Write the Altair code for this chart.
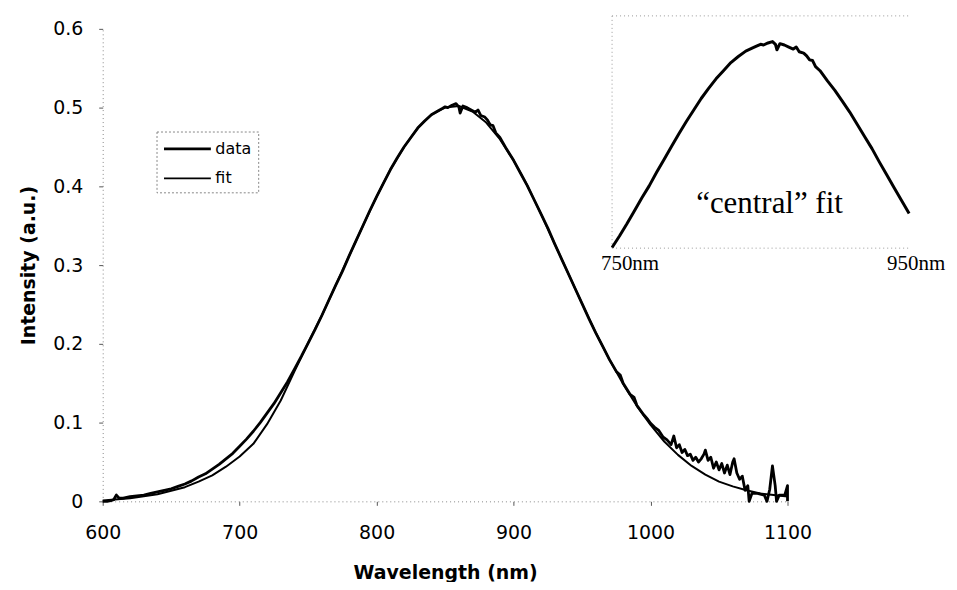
import altair as alt
import pandas as pd

data_wl = [600, 603, 606, 608, 610, 612, 615, 620, 625, 630, 635, 640, 645, 650, 655, 660, 665, 670, 675, 680,
           685, 690, 695, 700, 705, 710, 715, 720, 725, 730, 735, 740, 745, 750, 755, 760, 765, 770, 775, 780,
           785, 790, 795, 800, 805, 810, 815, 820, 825, 830, 835, 840, 845, 848, 850, 852, 855, 858, 860, 861,
           863, 866, 869, 872, 874, 876, 879, 881, 883, 885, 887, 890, 895, 900, 905, 910, 915, 920, 925, 930,
           935, 940, 945, 950, 955, 960, 965, 970, 975, 978, 980, 985, 988, 990, 995, 998, 1000, 1003, 1006, 1009,
           1012, 1015, 1017, 1019, 1021, 1023, 1025, 1027, 1029, 1031, 1033, 1035, 1037, 1039, 1040, 1042, 1044, 1046, 1048, 1050,
           1052, 1054, 1056, 1058, 1060, 1061, 1063, 1065, 1067, 1069, 1071, 1072, 1074, 1078, 1083, 1085, 1087, 1089, 1091, 1092,
           1094, 1098, 1100, 1100]
data_int = [0.000, 0.000, 0.001, 0.002, 0.008, 0.004, 0.004, 0.006, 0.007, 0.008, 0.010, 0.012, 0.014, 0.016, 0.019, 0.022, 0.026, 0.031, 0.035, 0.041,
            0.047, 0.054, 0.061, 0.070, 0.079, 0.089, 0.100, 0.112, 0.124, 0.138, 0.152, 0.168, 0.184, 0.201, 0.218, 0.236, 0.255, 0.274, 0.292, 0.312,
            0.331, 0.350, 0.369, 0.387, 0.404, 0.421, 0.436, 0.450, 0.462, 0.474, 0.483, 0.491, 0.496, 0.499, 0.501, 0.500, 0.503, 0.505, 0.501, 0.493,
            0.502, 0.500, 0.497, 0.494, 0.497, 0.490, 0.488, 0.484, 0.478, 0.477, 0.468, 0.462, 0.447, 0.433, 0.417, 0.401, 0.383, 0.365, 0.347, 0.327,
            0.308, 0.289, 0.270, 0.251, 0.232, 0.214, 0.197, 0.180, 0.165, 0.160, 0.150, 0.136, 0.132, 0.122, 0.110, 0.104, 0.099, 0.094, 0.090, 0.082,
            0.078, 0.072, 0.083, 0.068, 0.072, 0.062, 0.066, 0.058, 0.060, 0.052, 0.056, 0.050, 0.054, 0.060, 0.065, 0.052, 0.056, 0.042, 0.050, 0.040,
            0.048, 0.036, 0.046, 0.034, 0.050, 0.054, 0.036, 0.028, 0.032, 0.014, 0.020, 0.000, 0.010, 0.010, 0.008, 0.000, 0.015, 0.045, 0.020, 0.000,
            0.008, 0.008, 0.020, 0.000]

# ---- fitted curve ----
fit_wl = [600, 620, 640, 660, 670, 680, 690, 700, 710, 720, 730, 740, 750, 760, 770, 780, 790, 800, 810, 820,
          830, 840, 850, 860, 870, 880, 890, 900, 910, 920, 930, 940, 950, 960, 970, 980, 990, 1000, 1010, 1020,
          1030, 1040, 1050, 1060, 1070, 1080, 1090, 1100]
fit_int = [0.001, 0.004, 0.009, 0.018, 0.025, 0.033, 0.044, 0.057, 0.073, 0.098, 0.128, 0.165, 0.201, 0.236, 0.274, 0.312, 0.350, 0.387, 0.421, 0.450,
           0.474, 0.491, 0.500, 0.502, 0.495, 0.481, 0.460, 0.433, 0.401, 0.365, 0.327, 0.289, 0.251, 0.214, 0.180, 0.149, 0.121, 0.097, 0.076, 0.059,
           0.045, 0.034, 0.025, 0.019, 0.014, 0.010, 0.008, 0.006]

series_names = ["data", "fit"]
x_ticks = [600, 700, 800, 900, 1000, 1100]
y_ticks = [0, 0.1, 0.2, 0.3, 0.4, 0.5, 0.6]

# inset ("central" fit) window
inset_wl_domain = [750, 950]
inset_int_domain = [0.2, 0.543]
inset_labels = ["750nm", "950nm"]
inset_label_wl = [750, 950]
inset_title = "\u201ccentral\u201d fit"

W, H = 687, 474

df = pd.DataFrame({
    "wl": data_wl + fit_wl,
    "val": data_int + fit_int,
    "series": ["data"] * len(data_wl) + ["fit"] * len(fit_wl),
    "i": list(range(len(data_wl))) + list(range(len(fit_wl))),
})

leg = alt.Legend(title=None, orient="none", legendX=54, legendY=103)
main = alt.Chart(df).mark_line(strokeJoin="round").encode(
    x=alt.X("wl:Q", scale=alt.Scale(domain=[600, 1100], nice=False),
            axis=alt.Axis(title="Wavelength (nm)", values=x_ticks, format="d")),
    y=alt.Y("val:Q", scale=alt.Scale(domain=[0, 0.6], nice=False),
            axis=alt.Axis(title="Intensity (a.u.)", values=y_ticks, format="~g")),
    color=alt.Color("series:N", scale=alt.Scale(domain=series_names, range=["#000000", "#000000"]),
                    legend=leg),
    strokeWidth=alt.StrokeWidth("series:N", scale=alt.Scale(domain=series_names, range=[2.8, 2.0]),
                                legend=leg),
    order="i:Q",
)

inset_x = alt.Scale(domain=inset_wl_domain, range=[511, 809], nice=False)
inset_y = alt.Scale(domain=inset_int_domain, range=[220, -13], nice=False)

inset_df = pd.DataFrame({"wl": data_wl, "val": data_int, "i": list(range(len(data_wl)))})
inset_line = alt.Chart(inset_df).transform_filter(
    (alt.datum.wl >= inset_wl_domain[0]) & (alt.datum.wl <= inset_wl_domain[1])
).mark_line(color="black", strokeWidth=3, strokeJoin="round").encode(
    x=alt.X("wl:Q", scale=inset_x, axis=None),
    y=alt.Y("val:Q", scale=inset_y, axis=None),
    order="i:Q",
)

frame_df = pd.DataFrame({
    "x1": [inset_wl_domain[0], inset_wl_domain[0], inset_wl_domain[0]],
    "x2": [inset_wl_domain[1], inset_wl_domain[1], inset_wl_domain[0]],
    "y1": [inset_int_domain[1], inset_int_domain[0], inset_int_domain[0]],
    "y2": [inset_int_domain[1], inset_int_domain[0], inset_int_domain[1]],
})
frame = alt.Chart(frame_df).mark_rule(color="#999999", strokeDash=[1, 3], strokeWidth=1).encode(
    x=alt.X("x1:Q", scale=inset_x, axis=None), x2="x2:Q",
    y=alt.Y("y1:Q", scale=inset_y, axis=None), y2="y2:Q",
)

lab_df = pd.DataFrame({"wl": inset_label_wl, "val": [inset_int_domain[0]] * 2, "t": inset_labels})


def inset_label(k, dx):
    return alt.Chart(lab_df).transform_filter(alt.datum.t == inset_labels[k]).mark_text(
        font="Liberation Serif", fontSize=21, baseline="top", align="center",
        dy=5, dx=dx, color="black"
    ).encode(
        x=alt.X("wl:Q", scale=inset_x, axis=None),
        y=alt.Y("val:Q", scale=inset_y, axis=None),
        text="t:N",
    )


title_df = pd.DataFrame({"wl": [856], "val": [0.2515], "t": [inset_title]})
inset_text = alt.Chart(title_df).mark_text(font="Liberation Serif", fontSize=31, baseline="alphabetic",
                                           align="center", color="black").encode(
    x=alt.X("wl:Q", scale=inset_x, axis=None),
    y=alt.Y("val:Q", scale=inset_y, axis=None),
    text="t:N",
)

chart = alt.layer(main, frame, inset_line, inset_label(0, 18), inset_label(1, 7), inset_text).resolve_scale(
    x="independent", y="independent"
).properties(
    width=W, height=H,
    autosize=alt.AutoSizeParams(type="none"),
    padding={"left": 95, "top": 20, "right": 162, "bottom": 80},
).configure_view(stroke=None).configure_axis(
    grid=False, labelFlush=False,
    labelFont="DejaVu Sans", labelFontSize=19, labelColor="black",
    titleFont="DejaVu Sans", titleFontSize=19, titleFontWeight="bold", titleColor="black",
    domainColor="#888888", domainDash=[1, 3], domainWidth=1,
    tickColor="#555555", tickSize=4,
).configure_axisX(labelPadding=18, titlePadding=21).configure_axisY(labelPadding=16, titlePadding=14).configure_legend(
    symbolType="M-1,0H3.7", symbolSize=400, symbolStrokeColor="black",
    labelFont="DejaVu Sans", labelFontSize=16, labelColor="black", labelOffset=30,
    strokeColor="#888888", strokeDash=[2, 2], padding=6, rowPadding=10,
)

chart.save("out.html", embed_options={"renderer": "svg", "actions": False})
